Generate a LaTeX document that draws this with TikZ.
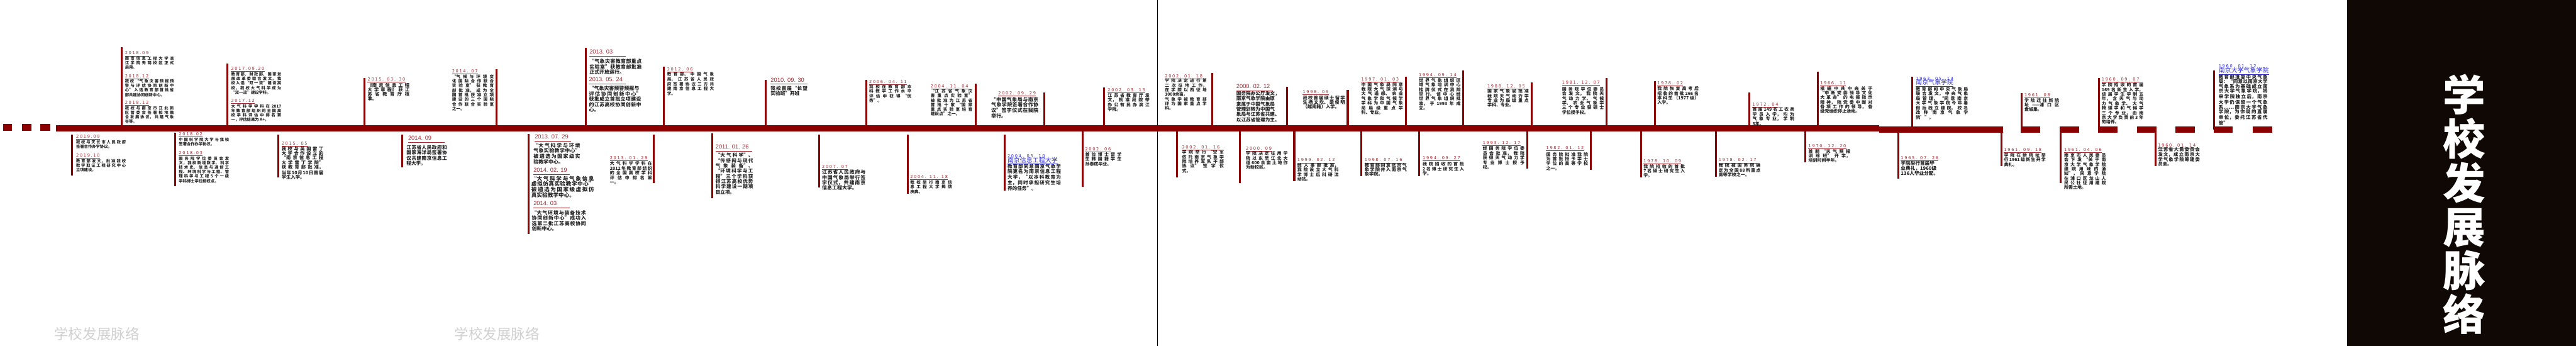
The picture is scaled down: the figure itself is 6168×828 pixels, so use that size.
\documentclass[tikz,border=0pt]{standalone}
\usepackage{fontspec}
\newfontfamily\zh{Noto Sans CJK SC}
\newfontfamily\dfont{DejaVu Sans}[LetterSpace=25]
\newfontfamily\afont{Liberation Sans}
\XeTeXlinebreaklocale "zh"
\XeTeXlinebreakskip=0pt plus 1pt
\definecolor{barred}{RGB}{139,0,0}
\definecolor{datered}{RGB}{168,40,48}
\definecolor{bodyc}{RGB}{35,35,35}
\definecolor{linkblue}{RGB}{45,45,215}
\definecolor{panel}{RGB}{16,8,5}
\newcommand\sz[2]{\zh\bfseries\fontsize{#1pt}{#2pt}\selectfont}
\newcommand\brk{\linebreak}
\tikzset{
  barpart/.style={fill=barred, draw=none},
  tk/.style={draw=barred, line width=2.3pt},
  dtcore/.style={anchor=base west, inner xsep=0pt, inner ysep=1.2pt, text=#1},
  dt/.style={dtcore=datered, font=\dfont\fontsize{5pt}{6pt}\selectfont,
    append after command={(\tikzlastnode.south west) edge[draw=datered, line width=0.55pt] (\tikzlastnode.south east)}},
  dtL/.style={dtcore=datered, inner ysep=2.4pt, font=\afont\fontsize{7pt}{8pt}\selectfont,
    append after command={(\tikzlastnode.south west) edge[draw=datered, line width=0.55pt] ([xshift=44pt]\tikzlastnode.south west)}},
  dtb/.style={anchor=base west, inner sep=0pt, text=linkblue, font=\dfont\fontsize{5pt}{6pt}\selectfont},
  lk/.style={dtcore=linkblue, inner ysep=1pt, font=\zh\fontsize{7.5pt}{8pt}\selectfont,
    append after command={(\tikzlastnode.south west) edge[draw=linkblue, line width=0.5pt] (\tikzlastnode.south east)}},
  bd/.style={anchor=north west, inner sep=0pt, align=justify, text width=#1, text=bodyc},
  wm/.style={font=\zh\fontsize{17pt}{18pt}\selectfont, text=black!18},
  ttl/.style={anchor=north, align=center, text=white, font=\zh\bfseries\fontsize{51pt}{52.5pt}\selectfont}
}
\begin{document}
\begin{tikzpicture}[x=0.5pt,y=-0.5pt]
\useasboundingbox (0,0) rectangle (6168,828);
\fill[white] (0,0) rectangle (6168,828);
% right panel
\fill[panel] (5620,0) rectangle (6168,828);
\node[ttl] (title) at (5901,171) {学\\校\\发\\展\\脉\\络};
% thin divider
\draw[black, line width=0.8pt] (2772,0) -- (2772,828);
% main bar
\fill[barpart] (7,297) rectangle (29,313);
\fill[barpart] (52,297) rectangle (75,313);
\fill[barpart] (97,297) rectangle (120,313);
\fill[barpart] (134,299) rectangle (4500,315);
\fill[barpart] (4500,302) rectangle (4796,318);
\fill[barpart] (4839,302) rectangle (4885,318);
\fill[barpart] (4932,302) rectangle (4978,318);
\fill[barpart] (5024,302) rectangle (5070,318);
\fill[barpart] (5117,302) rectangle (5163,318);
\fill[barpart] (5209,302) rectangle (5256,318);
\fill[barpart] (5300,302) rectangle (5346,318);
\fill[barpart] (5394,302) rectangle (5440,318);
% ticks
\foreach \x/\a/\b in {291/113/299, 173/322/420, 419/317/445, 544/152/299, 667/323/425,
  873/186/299, 1189/165/299, 963/323/400, 1266/320/560, 1402/115/299, 1566/323/438,
  1589/159/299, 1705/319/475, 1834/191/299, 1962/323/448, 2074/191/299, 2173/323/464,
  2336/201/299, 2405/323/457, 2500/222/299, 2593/315/447, 2644/210/299, 2818/315/425,
  2903/174/299, 3081/208/299, 2969/315/438, 3099/315/433, 3227/215/299, 3259/315/422,
  3366/183/299, 3398/315/421, 3503/169/299, 3657/315/403, 3667/197/299, 3809/315/407,
  3846/187/299, 3929/315/424, 3962/195/299, 4108/315/423, 4188/221/299, 4322/315/388,
  4352/171/299, 4545/317/427, 4579/184/302, 4792/302/397, 4841/223/310, 4934/310/438,
  5026/187/310, 5161/310/397, 5302/168/310}
  \draw[tk] (\x,\a) -- (\x,\b);
% ---------- events ----------
\node[dt] (d1a) at (299,131) {2018.09};
\node[bd=58.5pt, font=\sz{4.75}{5.3}] (b1a) at (299,135) {南京信息工程大学滨\brk 江学院无锡校区正式\brk 启用。};
\node[dt] (d1b) at (299,186) {2018.12};
\node[bd=58.5pt, font=\sz{4.75}{5.3}] (b1b) at (299,190) {我校“气象灾害预报预\brk 警与评估协同创新中\brk 心”入选教育部首批省\brk 部共建协同创新中心。};
\node[dt] (d1c) at (299,249) {2018.12};
\node[bd=58.5pt, font=\sz{4.75}{5.3}] (b1c) at (299,254) {我校与南京市江北新\brk 区管委会签署校地融\brk 合发展协议，共建气象\brk 谷等。};

\node[dt] (d2a) at (182,331) {2019.09};
\node[bd=59.5pt, font=\sz{4.75}{5.2}] (b2a) at (182,336) {我校与天长市人民政府\brk 签署合作办学协议。};
\node[dt] (d2b) at (182,376) {2019.10};
\node[bd=59.5pt, font=\sz{4.75}{5.25}] (b2b) at (182,381) {教育部发文，批准我校\brk 数字取证工程研究中心\brk 立项建设。};

\node[dt] (d3a) at (428,324) {2018.02};
\node[bd=60pt, font=\sz{4.75}{5.2}] (b3a) at (428,329) {中国科学院大学与我校\brk 签署合作办学协议。};
\node[dt] (d3b) at (428,369) {2018.03};
\node[bd=60pt, font=\sz{4.75}{5.3}] (b3b) at (428,375) {国务院学位委员会发\brk 文，我校新增数学、科学\brk 技术史、信息与通信工\brk 程、环境科学与工程、管\brk 理科学与工程 5 个一级\brk 学科博士学位授权点。};

\node[dt] (d4a) at (553,168) {2017.09.20};
\node[bd=60pt, font=\sz{4.75}{5.4}] (b4a) at (553,173) {教育部、财政部、国家发\brk 展改革委联合发文，我\brk 校入选“双一流”建设高\brk 校，我校大气科学成为\brk “双一流”建设学科。};
\node[dt] (d4b) at (553,245) {2017.12};
\node[bd=60pt, font=\sz{4.75}{5.4}] (b4b) at (553,249) {大气科学学科在 2017\brk 年教育部组织的全国高\brk 校学科评估中排名第\brk 一，评估结果为 A+。};

\node[dt] (d5) at (674,347) {2015. 05};
\node[bd=50pt, font=\sz{5.5}{5.55}] (b5) at (674,350) {我校与英国雷丁\brk 大学合作设立的\brk “南京信息工程\brk 大学雷丁学院”\brk 获教育部批准，\brk 当年10月10日首届\brk 学生入学。};

\node[dt] (d6) at (880,194) {2015. 03. 30};
\node[bd=50pt, font=\sz{5.5}{5.5}] (b6) at (880,198) {《南京信息工程\brk 大学章程》获江\brk 苏省教育厅核\brk 准。};

\node[dt] (d7) at (1082,174) {2014. 07};
\node[bd=50pt, font=\sz{5}{5.5}] (b7) at (1082,178) {“气候与环境变\brk 化国际合作联合\brk 实验室”获教育\brk 部批准，成为全\brk 国首批获准立项\brk 建设的三个国际\brk 合作联合实验室\brk 之一。};

\node[dtL] (d8) at (977,335) {2014. 09};
\node[bd=48.5pt, font=\sz{5.75}{6.35}] (b8) at (973,347) {江苏省人民政府和\brk 国家海洋局签署协\brk 议共建南京信息工\brk 程大学。};

\node[dtL] (d9a) at (1280,332) {2013. 07. 29};
\node[bd=56pt, font=\sz{6}{6.5}] (b9a) at (1277,342) {“大气科学与环境\brk 气象实验教学中心”\brk 被遴选为国家级实\brk 验教学中心。};
\node[dtL] (d9b) at (1277,412) {2014. 02. 19};
\node[bd=75pt, font=\sz{6.5}{6.5}] (b9b) at (1272,421) {“大气科学与气象信息\brk 虚拟仿真实验教学中心”\brk 被遴选为国家级虚拟仿\brk 真实验教学中心。};
\node[dtL] (d9c) at (1277,492) {2014. 03};
\node[bd=65pt, font=\sz{6}{6.4}] (b9c) at (1273,503) {“大气环境与装备技术\brk 协同创新中心”成功入\brk 选第二批江苏高校协同\brk 创新中心。};

\node[dtL] (d10a) at (1411,129) {2013. 03};
\node[bd=62.5pt, font=\sz{6}{6.25}] (b10a) at (1411,141) {“气象灾害教育部重点\brk 实验室”获教育部批准\brk 正式开放运行。};
\node[dtL] (d10b) at (1410,195) {2013. 05. 24};
\node[bd=62.5pt, font=\sz{6}{6.4}] (b10b) at (1410,206) {“气象灾害预警预报与\\ 评估协同创新中心”\brk 获批成立首批立项建设\brk 的江苏高校协同创新中\brk 心。};

\node[dt] (d11) at (1460,382) {2013. 01. 29};
\node[bd=50.5pt, font=\sz{5.25}{5.7}] (b11) at (1460,386) {大气科学学科在\brk 2012年教育部组织\brk 的全国高校学科\brk 评估中排名第\brk 一。};

\node[dt] (d12) at (1597,169) {2012. 06};
\node[bd=56pt, font=\sz{5}{5.7}] (b12) at (1597,173) {教育部、中国气象\brk 局、江苏省人民政\brk 府签署协议三方共\brk 建南京信息工程大\brk 学。};

\node[dtL] (d13) at (1713,356) {2011. 01. 26};
\node[bd=45pt, font=\sz{5.75}{6.25}] (b13) at (1713,366) {“大气科学”、\brk “传感网与现代\brk 气象装备”、\brk “环境科学与工\brk 程”三个学科获\brk 得江苏高校优势\brk 科学建设一期项\brk 目立项。};

\node[dtL] (d14) at (1845,196) {2010. 09. 30};
\node[bd=44pt, font=\sz{5.75}{5.85}] (b14) at (1845,206) {我校首届“长望\brk 实验班”开班};

\node[dt] (d15) at (1968,403) {2007. 07};
\node[bd=52pt, font=\sz{6}{6.3}] (b15) at (1968,406) {江苏省人民政府与\brk 中国气象局举行签\brk 字仪式，共建南京\brk 信息工程大学。};

\node[dt] (d16) at (2081,199) {2006. 04. 11};
\node[bd=50.5pt, font=\sz{5}{5.7}] (b16) at (2081,202) {我校在教育部本\brk 科教学工作水平\brk 评估中获得“优\brk 秀”。};

\node[dt] (d17) at (2179,427) {2004. 11. 18};
\node[bd=50pt, font=\sz{5}{5.6}] (b17) at (2179,431) {我校举行南京信\brk 息工程大学揭牌\brk 庆典。};

\node[dt] (d18) at (2228,210) {2004. 11. 04};
\node[bd=50pt, font=\sz{5}{5.5}] (b18) at (2228,213) {“江苏省气象灾\brk 害重点实验室”\brk 被批准为江苏省\brk 首批十家“国家\brk 重点实验室培育\brk 建设点”之一。};

\node[dtb] (d19) at (2412,377) {2004. 05. 10};
\node[lk] (l19) at (2412,389) {南京信息工程大学};
\node[bd=64pt, font=\sz{5.75}{5.55}] (b19) at (2412,392) {教育部同意南京气象学\brk 院更名为南京信息工程\brk 大学，“以本科教育为\brk 主，同时承担研究生培\brk 养的任务”。};

\node[dt] (d20) at (2390,227) {2002. 09. 29};
\node[bd=56.5pt, font=\sz{6}{6.5}] (b20) at (2373,232) {“中国气象局与南京\brk 气象学院签署合作协\brk 议”签字仪式在我院\brk 举行。};

\node[dt] (d21) at (2598,360) {2002. 06};
\node[bd=43.5pt, font=\sz{5.25}{5.65}] (b21) at (2598,364) {首位博士留学\brk 生韩国籍学生\brk 孙泰成毕业。};

\node[dt] (d22) at (2652,219) {2002. 03. 15};
\node[bd=50pt, font=\sz{5.25}{5.55}] (b22) at (2652,223) {江苏省教育厅发\brk 文，批准我院举\brk 办公有民办滨江\brk 学院。};

\node[dt] (d23) at (2830,356) {2002. 01. 16};
\node[bd=50pt, font=\sz{5.25}{5.55}] (b23) at (2830,359) {学院举行“空军\brk 依托南京气象学\brk 院培养军队干部\brk 协议”签字仪\brk 式。};

\node[dt] (d24) at (2789,186) {2002. 01. 18};
\node[bd=50pt, font=\sz{5}{5.5}] (b24) at (2789,188) {学院决定进行第\brk 二次征地工作，\brk 在学院以西征地\brk 1000余亩。\\ 气象学被教育部\brk 评为国家重点学\brk 科。};

\node[dtL] (d25) at (2960,212) {2000. 02. 12};
\node[bd=54pt, font=\sz{5.75}{6.25}] (b25) at (2960,218) {国务院办公厅发文，\\ 南京气象学院由原\\ 隶属于中国气象局\\ 管理划转为中国气\\ 象局与江苏省共建、\\ 以江苏省管理为主。};

\node[dt] (d26) at (2983,359) {2000. 09};
\node[bd=50pt, font=\sz{5.25}{5.55}] (b26) at (2983,362) {学院决定征用学\brk 院以东至江北大\brk 道600余亩土地作\brk 为新校区。};

\node[dt] (d27) at (3106,387) {1999. 02. 12};
\node[bd=49.5pt, font=\sz{5.25}{5.55}] (b27) at (3106,390) {经人事部批准，\brk 我院设立大气科\brk 学博士后科研流\brk 动站。};

\node[dt] (d28) at (3119,224) {1998. 09};
\node[bd=50.5pt, font=\sz{5.5}{5.6}] (b28) at (3119,228) {我校首届硕士留学\brk 生杨文坎、梁俊明\brk （越南籍）入学。};

\node[dt] (d29) at (3267,387) {1998. 07. 16};
\node[bd=50.5pt, font=\sz{5.5}{5.4}] (b29) at (3267,390) {教育部同意北京气\brk 象学院并入南京气\brk 象学院。};

\node[dt] (d30) at (3259,193) {1997. 01. 03};
\node[bd=50pt, font=\sz{5.25}{5.55}] (b30) at (3259,197) {中国气象局同意\brk 我院大气探测与\brk 大气遥感、农业\brk 气象学和气候学\brk 学科为中国气象\brk 局局级重点学\brk 科、专业。};

\node[dt] (d31) at (3406,382) {1994. 09. 27};
\node[bd=49.5pt, font=\sz{5.25}{5.5}] (b31) at (3406,388) {我院招收的首批\brk 2名博士研究生入\brk 学。};

\node[dt] (d32) at (3397,183) {1994. 09. 14};
\node[bd=50pt, font=\sz{5.25}{5.55}] (b32) at (3397,187) {世界气象组织区\brk 域气象培训中心\brk 挂牌仪式在我院\brk 举行。该中心经\brk 世界气象组织批\brk 准，于1993年成\brk 立。};

\node[dt] (d33) at (3550,346) {1993. 12. 17};
\node[bd=50pt, font=\sz{5.25}{5.6}] (b33) at (3550,350) {经国务院学位委\brk 员会批准，我院\brk 获得天气动力学\brk 专业博士授予\brk 权。};

\node[dt] (d34) at (3561,210) {1988. 12. 05};
\node[bd=49.5pt, font=\sz{5.25}{5.55}] (b34) at (3561,213) {国家气象局批准\brk 我院天气动力学\brk 专业为局级重点\brk 学科、专业。};

\node[dt] (d35) at (3702,358) {1982. 01. 12};
\node[bd=50pt, font=\sz{5.25}{5.55}] (b35) at (3702,364) {国务院批准我院\brk 为首批授予学士\brk 学位的高等学校\brk 之一。};

\node[dt] (d36) at (3740,201) {1981. 12. 07};
\node[bd=50pt, font=\sz{5.25}{5.55}] (b36) at (3740,208) {国务院学位委员\brk 会发文，我院天\brk 气动力学、气候\brk 学、农业气象学\brk 三个专业获硕士\brk 学位授予权。};

\node[dt] (d37) at (3935,389) {1978. 10. 09};
\node[bd=49.5pt, font=\sz{5.25}{5.4}] (b37) at (3935,393) {我院招收的首批\brk 7名硕士研究生入\brk 学。};

\node[dt] (d38) at (3968,203) {1978. 02};
\node[bd=49.5pt, font=\sz{5.25}{5.55}] (b38) at (3968,207) {我院恢复高考后\brk 招收的首批266名\brk 本科生（1977级）\brk 入学。};

\node[dt] (d39) at (4115,387) {1978. 02. 17};
\node[bd=50pt, font=\sz{5.25}{5.6}] (b39) at (4115,391) {我院被国务院确\brk 定为全国88所重点\brk 高等学校之一。};

\node[dt] (d40) at (4196,254) {1972. 04};
\node[bd=50pt, font=\sz{5.25}{5.55}] (b40) at (4196,257) {首届149名工农兵\brk 学员入学，均为\brk 气象专业，学制\brk 3年。};

\node[dt] (d41) at (4330,353) {1970. 12. 20};
\node[bd=50pt, font=\sz{5.25}{5.4}] (b41) at (4330,357) {首期“天气预报\brk 训练班”开学，\brk 培训时间半年。};

\node[dt] (d42) at (4358,202) {1966. 11};
\node[bd=62.5pt, font=\sz{5.25}{5.55}] (b42) at (4358,206) {根据中共中央关于\brk “中断党委领导文化\brk 大革命”的电报指示\brk 精神，院党委中断对\brk 各项工作的领导，各\brk 级党组织停止活动。};

\node[dt] (d43) at (4551,381) {1965. 07. 26};
\node[bd=47pt, font=\sz{5.75}{6}] (b43) at (4551,385) {学院举行首届毕\\ 业典礼，1960级\\ 136人毕业分配。};

\node[dtb] (d44) at (4587,192) {1963. 05. 14};
\node[lk] (l44) at (4587,203) {南京气象学院};
\node[bd=62.5pt, font=\sz{5.25}{5.6}] (b44) at (4587,208) {教育部和中央气象局\brk 联合发文，中央气象\brk 局管理，“同意南京\brk 大学气象学院今年暑\brk 假后独立建院。校名\brk 改称‘南京气象学\brk 院’”。};

\node[dt] (d45) at (4798,362) {1961. 09. 18};
\node[bd=50pt, font=\sz{5.25}{5.6}] (b45) at (4798,366) {学院在新院址举\brk 行1961级新生开学\brk 典礼。};

\node[dt] (d46) at (4847,231) {1961. 08};
\node[bd=41.5pt, font=\sz{5.25}{5.4}] (b46) at (4847,235) {学院迁往新院\brk 址——浦口区\brk 盘城集。};

\node[dt] (d47) at (4942,362) {1961. 04. 06};
\node[bd=50pt, font=\sz{5.25}{5.55}] (b47) at (4942,366) {南京市人民委员\brk 会下发“关于南\brk 京大学气象学院\brk 建院用地的通\brk 知”，同意学院\brk 在浦口区龙山人\brk 民公社征用建院\brk 所需土地。};

\node[dt] (d48) at (5032,194) {1960. 09. 07};
\node[bd=50pt, font=\sz{5.25}{5.55}] (b48) at (5032,198) {学院招收的首届\brk 169名新生入学。\brk 该届学生学制五\brk 年，含天气与动\brk 力气象学、大气\brk 物理学和气候学\brk 三个专业，由南\brk 京大学负责前3年\brk 的培养。};

\node[dt] (d49) at (5167,351) {1960. 01. 14};
\node[bd=50pt, font=\sz{5.5}{5.7}] (b49) at (5167,353) {江苏省人民委员会\brk 发文，成立南京大\brk 学气象学院筹建委\brk 员会。};

\node[dtb] (d50) at (5312,162) {1960. 01. 12};
\node[lk] (l50) at (5312,174) {南京大学气象学院};
\node[bd=58.5pt, font=\sz{5.65}{5.65}] (b50) at (5312,178) {教育部批复中央气象\brk 局：“同意以南京大学\brk 气象系为基础成立南\brk 京大学气象学院，将\brk 来学院独立后，南京\brk 大学仍保留一个气象\brk 系……南京大学气象\brk 学院，为你局的直属\brk 单位，委托江苏省代\brk 管”};

% faint captions at bottom
\node[wm] (wm1) at (232,800) {学校发展脉络};
\node[wm] (wm2) at (1190,800) {学校发展脉络};
\end{tikzpicture}
\end{document}
